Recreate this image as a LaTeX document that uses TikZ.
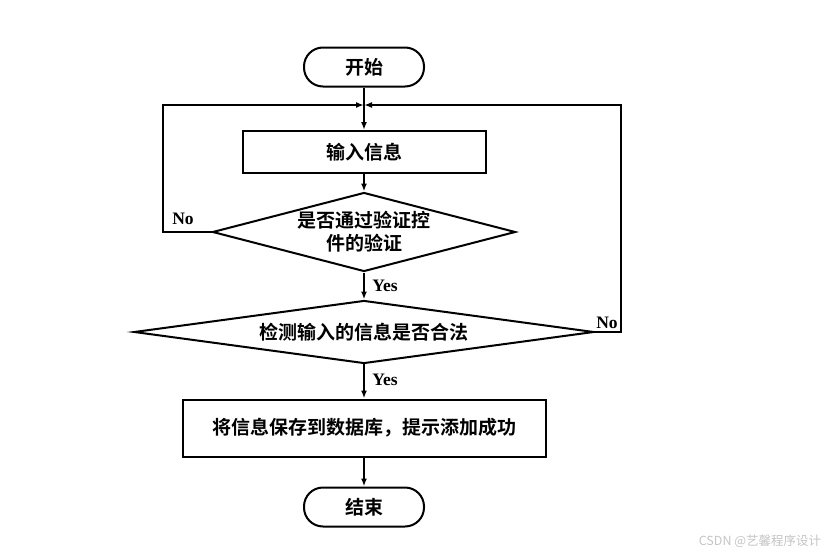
\documentclass[tikz,border=0pt]{standalone}
\usepackage{fontspec}
\usepackage{xcolor}
\usetikzlibrary{shapes.geometric,arrows.meta}
\newfontfamily\cjk{Noto Sans CJK SC Bold}
\newfontfamily\cjkr{Noto Sans CJK SC}
\newfontfamily\lat{Liberation Serif}
\definecolor{ink}{HTML}{000000}
\definecolor{wm}{HTML}{C4C4C4}
\tikzset{
  base/.style={draw=ink, line width=2pt},
  term/.style={base, rectangle, rounded corners=19pt, minimum width=120pt, minimum height=39pt},
  proc/.style={base, rectangle, inner sep=0pt},
  dec/.style={base, diamond, inner sep=0pt, align=center},
  flow/.style={draw=ink, line width=1.6pt, -{Latex[length=8pt,width=6pt]}},
  lab/.style={text=ink, font=\cjk\fontsize{19}{23}\selectfont},
  yn/.style={text=ink, font=\lat\bfseries\fontsize{17.5}{19}\selectfont},
}
\begin{document}
\begin{tikzpicture}[x=1pt,y=-1pt]
  \useasboundingbox (0,0) rectangle (839,557);
  \node[term, lab] (start) at (364,67) {开始};
  \node[proc, lab, minimum width=243pt, minimum height=42pt] (input) at (364,152) {输入信息};
  \node[dec, lab, minimum width=303pt, minimum height=79pt, aspect=3.8] (check1) at (364,232) {是否通过验证控\\件的验证};
  \node[dec, lab, minimum width=460pt, minimum height=63pt, aspect=7.3] (check2) at (364,332) {检测输入的信息是否合法};
  \node[proc, lab, minimum width=363pt, minimum height=57pt] (save) at (364,428) {将信息保存到数据库，提示添加成功};
  \node[term, lab] (stop) at (364,507) {结束};
  \coordinate (join) at (364,105);
  \coordinate (loopl) at (163,105);
  \coordinate (loopr) at (621,105);
  \draw[flow] (start) -- (input);
  \draw[flow] (input) -- (check1);
  \draw[flow] (check1) -- (check2);
  \draw[flow] (check2) -- (save);
  \draw[flow] (save) -- (stop);
  \draw[flow] (check1.west) -| (loopl) -- (join);
  \draw[flow] (check2.east) -| (loopr) -- (join);
  \node[yn] (no1) at (183,219) {No};
  \node[yn] (yes1) at (385,286) {Yes};
  \node[yn] (no2) at (607,323) {No};
  \node[yn] (yes2) at (385,380) {Yes};
  \node[text=wm, font=\cjkr\fontsize{12.5}{14}\selectfont] (mark) at (760,541) {CSDN @艺馨程序设计};
\end{tikzpicture}
\end{document}
